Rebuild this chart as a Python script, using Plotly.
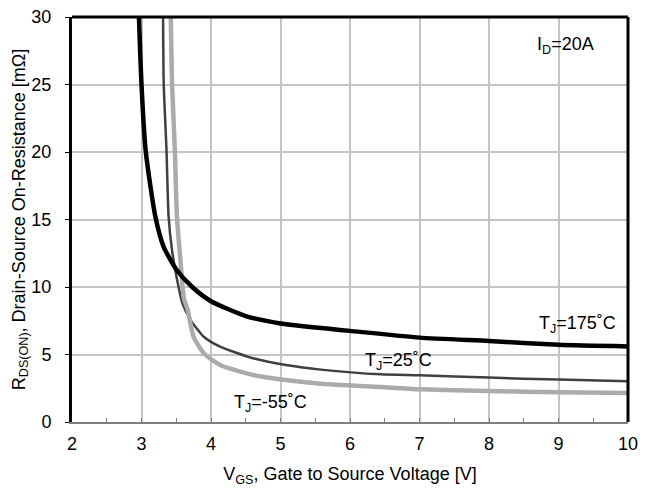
import plotly.graph_objects as go

# Data
vgs_175 = [2.96, 3.00, 3.06, 3.20, 3.32, 3.51, 3.73, 4.00, 4.50, 5.00, 5.70, 6.00, 7.00, 8.00, 9.00, 10.00]
rds_175 = [30.5, 25.0, 20.1, 15.2, 12.96, 11.24, 10.0, 8.95, 7.85, 7.3, 6.9, 6.75, 6.25, 6.0, 5.72, 5.6]

vgs_25 = [3.31, 3.32, 3.36, 3.39, 3.44, 3.51, 3.59, 3.71, 3.90, 4.14, 4.62, 5.10, 5.58, 6.44, 7.00, 8.00, 9.00, 10.00]
rds_25 = [30.5, 25.0, 20.1, 15.2, 12.7, 10.6, 8.77, 7.53, 6.30, 5.56, 4.70, 4.20, 3.88, 3.53, 3.46, 3.29, 3.14, 3.02]

vgs_m55 = [3.42, 3.44, 3.48, 3.51, 3.56, 3.61, 3.66, 3.75, 3.90, 4.14, 4.62, 5.10, 5.58, 6.44, 7.00, 8.00, 9.00, 10.00]
rds_m55 = [30.5, 25.0, 20.1, 15.2, 11.98, 9.14, 8.40, 6.30, 5.07, 4.20, 3.46, 3.09, 2.84, 2.59, 2.42, 2.30, 2.20, 2.15]

x_ticks = [2, 3, 4, 5, 6, 7, 8, 9, 10]
y_ticks = [0, 5, 10, 15, 20, 25, 30]

labels = ["T<sub>J</sub>=175˚C", "T<sub>J</sub>=25˚C", "T<sub>J</sub>=-55˚C", "I<sub>D</sub>=20A"]
label_x = [9.28, 6.70, 4.86, 9.1]
label_y = [7.25, 4.5, 1.35, 27.9]

FONT = "Liberation Sans, Arial, sans-serif"

fig = go.Figure()
fig.add_trace(go.Scatter(x=vgs_25, y=rds_25, mode="lines",
                         line=dict(color="#404040", width=2.5, shape="spline", smoothing=0.6),
                         showlegend=False))
fig.add_trace(go.Scatter(x=vgs_m55, y=rds_m55, mode="lines",
                         line=dict(color="#ababab", width=4.5, shape="spline", smoothing=0.6),
                         showlegend=False))
fig.add_trace(go.Scatter(x=vgs_175, y=rds_175, mode="lines",
                         line=dict(color="#000000", width=4.5, shape="spline", smoothing=0.6),
                         showlegend=False))

for t, lx, ly in zip(labels, label_x, label_y):
    fig.add_annotation(x=lx, y=ly, text=t, showarrow=False,
                       font=dict(family=FONT, size=18, color="#000000"))

# frame: top and right black edges
fig.add_shape(type="line", xref="paper", yref="paper", x0=0, x1=1, y0=1, y1=1,
              line=dict(color="#000000", width=3))
fig.add_shape(type="line", xref="paper", yref="paper", x0=1, x1=1, y0=0, y1=1,
              line=dict(color="#000000", width=3))

fig.update_layout(
    width=652, height=488,
    margin=dict(l=64, r=32, t=9, b=74),
    paper_bgcolor="white", plot_bgcolor="white",
    font=dict(family=FONT, size=18, color="#000000"),
    xaxis=dict(
        range=[2, 10], tickvals=x_ticks, ticktext=[str(v) for v in x_ticks],
        showgrid=True, gridcolor="#c4c4c4", gridwidth=2,
        showline=True, linecolor="#7f7f7f", linewidth=2,
        ticks="inside", ticklen=4, tickcolor="#7f7f7f", tickwidth=1,
        minor=dict(dtick=0.5, ticks="inside", ticklen=4, tickcolor="#7f7f7f", showgrid=False),
        zeroline=False, ticklabeloverflow="allow", ticklabelstandoff=4, automargin=False,
        tickfont=dict(size=18),
        title=dict(text="V<sub>GS</sub>, Gate to Source Voltage [V]", font=dict(size=18), standoff=15),
    ),
    yaxis=dict(
        range=[0, 30], tickvals=y_ticks, ticktext=[str(v) for v in y_ticks],
        showgrid=True, gridcolor="#c4c4c4", gridwidth=2,
        showline=True, linecolor="#000000", linewidth=3,
        ticks="outside", ticklen=4, tickcolor="#000000",
        zeroline=False, ticklabeloverflow="allow", ticklabelstandoff=10, automargin=False,
        tickfont=dict(size=18),
        title=dict(text="R<sub>DS(ON)</sub>, Drain-Source On-Resistance [mΩ]", font=dict(size=18), standoff=0),
    ),
)

fig.write_html("out.html")
